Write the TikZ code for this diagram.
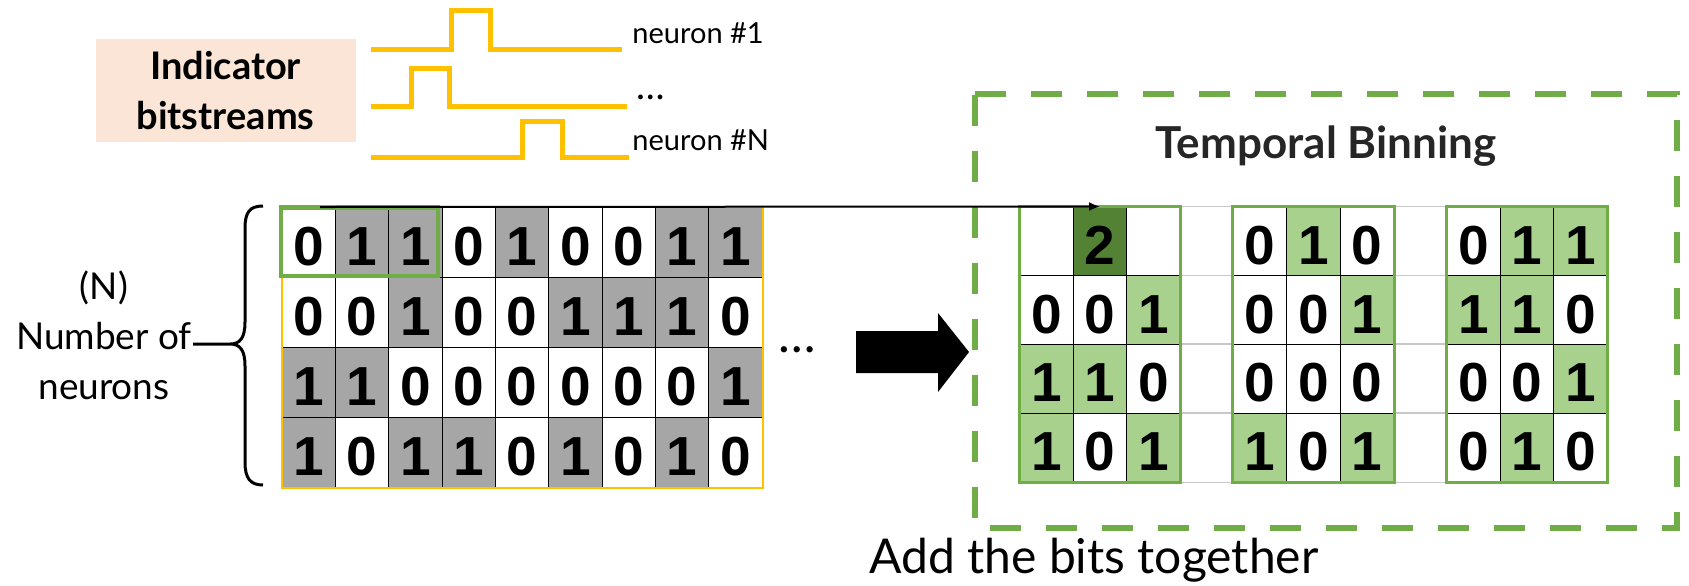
\documentclass[tikz,border=0pt]{standalone}
\usepackage{fontspec}
\setmainfont{Lato}
\newfontfamily\digitfont{Liberation Sans}
\usetikzlibrary{arrows.meta}

\definecolor{amber}{HTML}{FFC000}
\definecolor{peach}{HTML}{FBE5D6}
\definecolor{cellgray}{HTML}{A6A6A6}
\definecolor{lightgreen}{HTML}{A9D18E}
\definecolor{darkgreen}{HTML}{548235}
\definecolor{framegreen}{HTML}{70AD47}
\definecolor{gapgray}{HTML}{C8C8C8}
\definecolor{titlegray}{HTML}{262626}

\tikzset{
  wave/.style={draw=amber, line width=2.5pt, line join=miter},
  lcell/.style={minimum width=26.67pt, minimum height=35pt, inner sep=0pt,
    draw=black, line width=0.5pt,
    font=\digitfont\bfseries\fontsize{27.5}{27.5}\selectfont,
    text height=23pt, text depth=0pt},
  rcell/.style={lcell, minimum width=26.68pt, minimum height=34.375pt},
  gframe/.style={draw=framegreen, line width=1.5pt},
  gapline/.style={draw=gapgray, line width=0.75pt},
  window/.style={draw=framegreen, line width=2.25pt, inner sep=0pt,
    minimum width=78.5pt, minimum height=34.25pt},
  dashbox/.style={draw=framegreen, line width=3pt, dash pattern=on 15.5pt off 12.5pt},
  label/.style={font=\fontsize{14.5}{16}\selectfont, inner sep=0pt},
}

\begin{document}
\begin{tikzpicture}[x=0.5pt, y=-0.5pt]
\useasboundingbox (0,0) rectangle (1689,585);

% ---- indicator bitstreams ----
\node[fill=peach, minimum width=130pt, minimum height=51.5pt, inner sep=0pt,
      align=center, font=\bfseries\fontsize{19}{25}\selectfont] (ind) at (225.5,90.5)
      {Indicator\\bitstreams};

\draw[wave] (371,49) -- (451,49) -- (451,10) -- (490,10) -- (490,49) -- (622,49);
\draw[wave] (371,106) -- (411,106) -- (411,68) -- (449,68) -- (449,106) -- (627,106);
\draw[wave] (371,157) -- (522,157) -- (522,121) -- (562,121) -- (562,157) -- (629,157);

\node[label, anchor=base west] (n1) at (632,43) {neuron \#1};
\node[label, anchor=base west, font=\fontsize{19}{19}\selectfont] (nd) at (636,99) {\dots};
\node[label, anchor=base west] (nN) at (632,150) {neuron \#N};

% ---- raw bit matrix ----
\foreach \row [count=\r] in {{0,1,1,0,1,0,0,1,1},{0,0,1,0,0,1,1,1,0},
                             {1,1,0,0,0,0,0,0,1},{1,0,1,1,0,1,0,1,0}} {
  \foreach \v [count=\c] in \row {
    \ifnum\v=1 \def\cf{cellgray}\else\def\cf{white}\fi
    \node[lcell, fill=\cf] (L-\r-\c) at ({282+(\c-0.5)*53.333}, {207+(\r-0.5)*70}) {\v};
  }
}
\draw[amber, line width=1pt] (L-1-1.north west) rectangle (L-4-9.south east);

% brace and row label
\draw[line width=1.5pt] (193,344) -- (230,344)
  (263,206) .. controls (250,206) and (245,212) .. (245,228) -- (245,322)
  .. controls (245,338) and (240,344) .. (230,344)
  .. controls (240,344) and (245,350) .. (245,366) -- (245,462)
  .. controls (245,478) and (250,485) .. (263,485);
\node[align=center, inner sep=0pt, font=\fontsize{18.5}{25}\selectfont] (nlab) at (104,335)
  {(N)\\Number of\\neurons};

\node[inner sep=0pt, font=\fontsize{25}{25}\selectfont, anchor=base] (gd) at (797,352) {\dots};

% block arrow
\fill (856,331) -- (938,331) -- (938,313) -- (969,352) -- (938,392) -- (938,373) -- (856,373) -- cycle;

% ---- temporal binning ----
\draw[dashbox] (975,94) -- (1677,94) -- (1677,528) -- (975,528) -- cycle;
\node[anchor=base, inner sep=0pt, text=titlegray, font=\bfseries\fontsize{22}{22}\selectfont]
  (title) at (1326,158) {Temporal Binning};

\foreach \rows [count=\g] in {{{-1,2,-1},{0,0,1},{1,1,0},{1,0,1}},
                              {{0,1,0},{0,0,1},{0,0,0},{1,0,1}},
                              {{0,1,1},{1,1,0},{0,0,1},{0,1,0}}} {
  \foreach \row [count=\r] in \rows {
    \foreach \v [count=\c] in \row {
      \ifnum\v=1 \def\cf{lightgreen}\else\ifnum\v=2 \def\cf{darkgreen}\else\def\cf{white}\fi\fi
      \node[rcell, fill=\cf] (R-\g-\r-\c)
        at ({1020+((\g-1)*4+\c-0.5)*53.36}, {207+(\r-0.5)*68.75}) {\ifnum\v<0 \else\v\fi};
    }
  }
}
\foreach \g in {1,2} {
  \pgfmathtruncatemacro\h{\g+1}
  \foreach \r in {1,...,4} {
    \draw[gapline] (R-\g-\r-3.north east) -- (R-\h-\r-1.north west);
  }
  \draw[gapline] (R-\g-4-3.south east) -- (R-\h-4-1.south west);
}
\foreach \g in {1,2,3} {
  \draw[gframe] (R-\g-1-1.north west) rectangle (R-\g-4-3.south east);
}

% sliding window and its link to the binned value
\node[window] (win) at (359.5,241.75) {};
\coordinate (src) at (320,207);
\draw[line width=1pt, -{Latex[length=5.5pt, width=4.5pt]}] (src) -- (R-1-1-2.north);

\node[anchor=base west, inner sep=0pt, font=\fontsize{24}{24}\selectfont] (sum) at (869,573)
  {Add the bits together};
\end{tikzpicture}
\end{document}
